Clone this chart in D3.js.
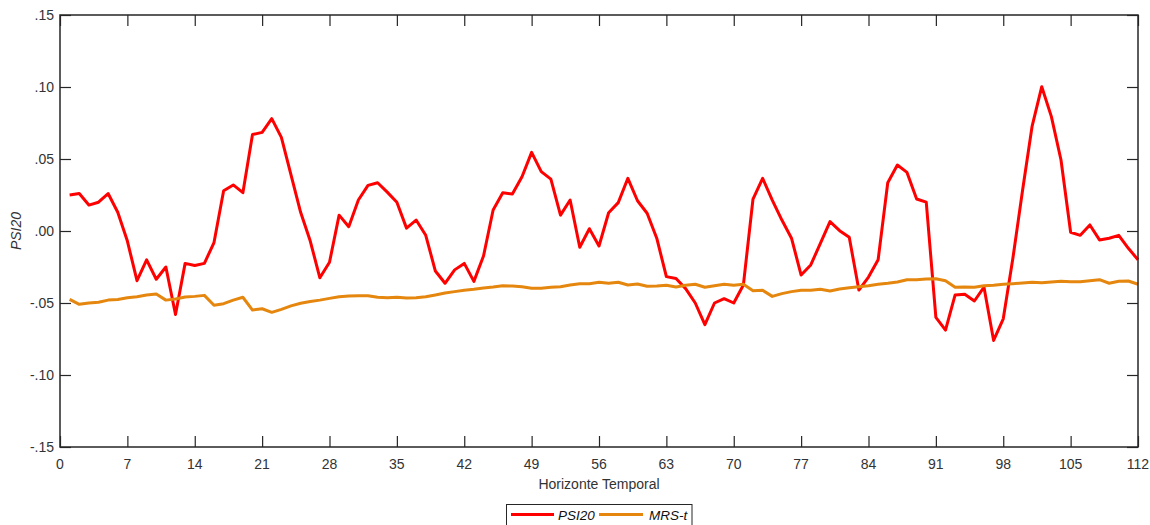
<!DOCTYPE html>
<html>
<head>
<meta charset="utf-8">
<script src="https://cdn.jsdelivr.net/npm/d3@7/dist/d3.min.js"></script>
<style>
  html, body { margin: 0; padding: 0; background: #fff; }
  svg { display: block; font-family: "Liberation Sans", Arial, sans-serif; }
</style>
</head>
<body>
<svg id="chart" width="1150" height="525"></svg>
<script>
const seriesNames = ["PSI20", "MRS-t"];
const seriesColors = ["#ff0000", "#e5870e"];
const xTicks = [0, 7, 14, 21, 28, 35, 42, 49, 56, 63, 70, 77, 84, 91, 98, 105, 112];
const yTicks = [-0.15, -0.10, -0.05, 0.00, 0.05, 0.10, 0.15];
const yTickLabels = ["-.15", "-.10", "-.05", ".00", ".05", ".10", ".15"];

const psi20 = [
  0.025, 0.026, 0.018, 0.020, 0.026, 0.013, -0.007, -0.0345, -0.020, -0.0335,
  -0.025, -0.058, -0.0225, -0.024, -0.0225, -0.008, 0.028, 0.032, 0.0266, 0.067,
  0.0685, 0.078, 0.065, 0.039, 0.013, -0.007, -0.0325, -0.0217, 0.011, 0.003,
  0.0215, 0.0317, 0.0335, 0.027, 0.020, 0.002, 0.0076, -0.003, -0.0278, -0.0363,
  -0.027, -0.0225, -0.035, -0.0174, 0.0146, 0.0266, 0.0257, 0.0377, 0.0546, 0.0412,
  0.036, 0.011, 0.0215, -0.0113, 0.0016, -0.0104, 0.0127, 0.0197, 0.0366, 0.021,
  0.0123, -0.005, -0.0317, -0.033, -0.040, -0.050, -0.065, -0.050, -0.047, -0.050,
  -0.0375, 0.0222, 0.0366, 0.0215, 0.0076, -0.005, -0.0306, -0.0236, -0.0086, 0.0065,
  0.0002, -0.0044, -0.041, -0.032, -0.020, 0.0335, 0.0458, 0.0407, 0.0222, 0.020,
  -0.060, -0.0688, -0.0444, -0.044, -0.0486, -0.039, -0.076, -0.061, -0.019, 0.028,
  0.0729, 0.1002, 0.0794, 0.0493, -0.0009, -0.003, 0.0042, -0.0062, -0.005, -0.003,
  -0.012, -0.020
];

const mrst = [
  -0.0475, -0.0509, -0.0500, -0.0495, -0.0480, -0.0475, -0.0463, -0.0456, -0.0444, -0.0438,
  -0.0480, -0.0472, -0.0458, -0.0454, -0.0447, -0.0516, -0.0505, -0.0480, -0.0460, -0.0549,
  -0.0540, -0.0565, -0.0544, -0.0520, -0.0502, -0.0490, -0.0480, -0.0468, -0.0456, -0.0451,
  -0.0449, -0.0449, -0.0460, -0.0463, -0.0460, -0.0465, -0.0463, -0.0456, -0.0444, -0.0431,
  -0.0421, -0.0412, -0.0405, -0.0396, -0.0389, -0.0380, -0.0382, -0.0387, -0.0398, -0.0398,
  -0.0391, -0.0387, -0.0375, -0.0366, -0.0366, -0.0356, -0.0363, -0.0356, -0.0375, -0.0368,
  -0.0384, -0.0382, -0.0377, -0.0389, -0.0377, -0.0370, -0.0391, -0.0380, -0.0370, -0.0377,
  -0.0370, -0.0415, -0.0412, -0.0454, -0.0435, -0.0421, -0.0412, -0.0412, -0.0405, -0.0417,
  -0.0403, -0.0394, -0.0387, -0.0380, -0.0370, -0.0363, -0.0354, -0.0338, -0.0338, -0.0333,
  -0.0331, -0.0345, -0.0391, -0.0389, -0.0391, -0.0380, -0.0377, -0.0370, -0.0366, -0.0361,
  -0.0356, -0.0359, -0.0354, -0.0349, -0.0352, -0.0352, -0.0345, -0.0338, -0.0363, -0.0349,
  -0.0347, -0.0370
];

const series = [psi20, mrst];

const margin = { left: 60, right: 12, top: 15, bottom: 78 };
const W = 1150, H = 525;
const x0 = margin.left, x1 = W - margin.right;
const y0 = margin.top, y1 = H - margin.bottom;

const svg = d3.select("#chart");
const x = d3.scaleLinear().domain([0, 112]).range([x0, x1]);
const y = d3.scaleLinear().domain([-0.15, 0.15]).range([y1, y0]);

const axisColor = "#262626";
const textColor = "#333333";
const tickLen = 11;

// Lines
const line = d3.line().x((d, i) => x(i + 1)).y(d => y(d));
series.forEach((s, k) => {
  svg.append("path")
    .datum(s)
    .attr("fill", "none")
    .attr("stroke", seriesColors[k])
    .attr("stroke-width", 3)
    .attr("stroke-linejoin", "round")
    .attr("d", line);
});

// Axes (ticks inward)
const fmtY = d => yTickLabels[yTicks.findIndex(t => Math.abs(t - d) < 1e-9)];
const axB = svg.append("g").attr("transform", `translate(0,${y1})`)
  .call(d3.axisTop(x).tickValues(xTicks).tickSize(tickLen).tickFormat(""));
const axT = svg.append("g").attr("transform", `translate(0,${y0})`)
  .call(d3.axisBottom(x).tickValues(xTicks).tickSize(tickLen).tickFormat(""));
const axL = svg.append("g").attr("transform", `translate(${x0},0)`)
  .call(d3.axisRight(y).tickValues(yTicks).tickSize(tickLen).tickFormat(""));
const axR = svg.append("g").attr("transform", `translate(${x1},0)`)
  .call(d3.axisLeft(y).tickValues(yTicks).tickSize(tickLen).tickFormat(""));
[axB, axT, axL, axR].forEach(g => {
  g.selectAll(".domain").remove();
  g.selectAll(".tick line").attr("stroke", axisColor).attr("stroke-width", 1.2);
});

// Frame
svg.append("rect")
  .attr("x", x0).attr("y", y0)
  .attr("width", x1 - x0).attr("height", y1 - y0)
  .attr("fill", "none").attr("stroke", axisColor).attr("stroke-width", 1.5);

// Tick labels
svg.append("g").selectAll("text").data(xTicks).join("text")
  .attr("x", d => x(d)).attr("y", y1 + 22)
  .attr("text-anchor", "middle")
  .attr("font-size", 14).attr("fill", textColor)
  .text(d => d);

svg.append("g").selectAll("text").data(yTicks).join("text")
  .attr("x", x0 - 6).attr("y", d => y(d) + 5)
  .attr("text-anchor", "end")
  .attr("font-size", 14).attr("fill", textColor)
  .text(d => fmtY(d));

// Axis titles
svg.append("text")
  .attr("x", (x0 + x1) / 2).attr("y", y1 + 42)
  .attr("text-anchor", "middle")
  .attr("font-size", 14).attr("fill", textColor)
  .text("Horizonte Temporal");

svg.append("text")
  .attr("transform", `translate(21,${(y0 + y1) / 2}) rotate(-90)`)
  .attr("text-anchor", "middle")
  .attr("font-size", 14).attr("font-style", "italic").attr("fill", textColor)
  .text("PSI20");

// Legend
const lg = svg.append("g");
lg.append("rect")
  .attr("x", 506.5).attr("y", 504.5).attr("width", 185.5).attr("height", 24)
  .attr("fill", "#fff").attr("stroke", axisColor).attr("stroke-width", 1);
const legendItems = [
  { x1: 511, x2: 554, tx: 558 },
  { x1: 599, x2: 643, tx: 649 }
];
legendItems.forEach((it, k) => {
  lg.append("line")
    .attr("x1", it.x1).attr("x2", it.x2).attr("y1", 514.5).attr("y2", 514.5)
    .attr("stroke", seriesColors[k]).attr("stroke-width", 3);
  lg.append("text")
    .attr("x", it.tx).attr("y", 519.5)
    .attr("font-size", 13.5).attr("font-style", "italic").attr("fill", "#111")
    .text(seriesNames[k]);
});
</script>
</body>
</html>
